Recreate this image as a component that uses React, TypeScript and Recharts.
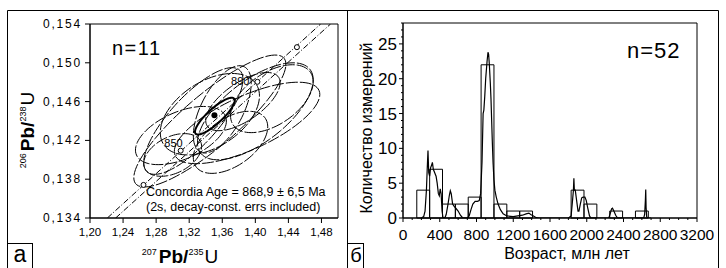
import React from 'react';
import {
  ScatterChart, Scatter, XAxis, YAxis, ReferenceArea,
  ComposedChart, Line,
} from 'recharts';

const FONT = "'Liberation Sans', Arial, Helvetica, sans-serif";

// ---------- Left panel (concordia) data ----------
const xTicksL = [1.2, 1.24, 1.28, 1.32, 1.36, 1.4, 1.44, 1.48];
const yTicksL = [0.134, 0.138, 0.142, 0.146, 0.15, 0.154];

// error ellipses: centre (cx, cy), half-extents (sx, sy), correlation rho
const ellipses = [
  { cx: 1.345, cy: 0.1440, sx: 0.092, sy: 0.0068, rho: 0.86 },
  { cx: 1.390, cy: 0.1438, sx: 0.088, sy: 0.0042, rho: 0.7 },
  { cx: 1.400, cy: 0.1450, sx: 0.070, sy: 0.0050, rho: 0.65 },
  { cx: 1.345, cy: 0.1447, sx: 0.060, sy: 0.0042, rho: 0.45 },
  { cx: 1.310, cy: 0.1425, sx: 0.055, sy: 0.0030, rho: 0.5 },
  { cx: 1.325, cy: 0.1440, sx: 0.060, sy: 0.0055, rho: 0.78 },
  { cx: 1.300, cy: 0.1405, sx: 0.035, sy: 0.0022, rho: 0.4 },
  { cx: 1.370, cy: 0.1418, sx: 0.045, sy: 0.0032, rho: 0.5 },
  { cx: 1.385, cy: 0.1460, sx: 0.045, sy: 0.0030, rho: 0.65 },
  { cx: 1.420, cy: 0.1463, sx: 0.050, sy: 0.0035, rho: 0.5 },
  { cx: 1.360, cy: 0.1452, sx: 0.035, sy: 0.0045, rho: 0.6 },
];
const ageEllipse = { cx: 1.351, cy: 0.1445, sx: 0.024, sy: 0.0019, rho: 0.85 };
const agePoint = [{ x: 1.3505, y: 0.1446 }];

const concordiaA = [{ x: 1.221, y: 0.134 }, { x: 1.479, y: 0.154 }];
const concordiaB = [{ x: 1.231, y: 0.134 }, { x: 1.491, y: 0.154 }];
const concordiaMarks = [
  { age: 830, x: 1.2647, y: 0.13741 },
  { age: 850, x: 1.3097, y: 0.14094 },
  { age: 890, x: 1.4025, y: 0.14804 },
  { age: 910, x: 1.4503, y: 0.15161 },
];
const markLabels: Record<number, string> = { 850: '850', 890: '890' };

// ---------- Right panel (histogram) data ----------
const binStarts = [150, 290, 430, 570, 710, 850, 990, 1130, 1270, 1830, 1970, 2250, 2530];
const binCounts = [4, 7, 2, 2, 3, 22, 2, 1, 1, 4, 2, 1, 1];
const binWidth = 140;

const pdfAges = [
  200, 225, 240, 255, 265, 272, 280, 290, 300, 312, 320, 330, 345, 360, 372, 385, 395, 405, 415, 425, 435,
  455, 470, 490, 505, 515, 525, 540, 555, 575, 600, 625, 650, 700, 720, 740, 760, 785, 810, 830, 845,
  860, 872, 880, 890, 900, 915, 925, 932, 940, 950, 958, 965, 972, 980, 990, 1000, 1015, 1035, 1060,
  1090, 1130, 1200, 1250, 1300, 1340, 1370, 1390, 1420, 1450, 1480, 1800, 1830, 1845, 1855, 1860,
  1865, 1875, 1890, 1905, 1915, 1930, 1945, 1960, 1980, 1995, 2010, 2030, 2045, 2240, 2255, 2270,
  2280, 2295, 2315, 2335, 2620, 2630, 2638, 2642, 2646, 2652, 2660, 2700,
];
const pdfValues = [
  0, 0.2, 1.0, 4.0, 7.5, 9.7, 6.5, 6.0, 7.2, 7.6, 8.0, 7.0, 6.5, 6.0, 5.0, 3.5, 3.2, 4.2, 3.5, 1.0, 0.1,
  0, 0.5, 2.0, 3.3, 3.9, 3.5, 2.0, 1.7, 1.4, 1.0, 0.4, 0, 0, 0.3, 1.2, 2.0, 2.4, 2.4, 2.5, 3.5,
  8, 15, 15.5, 17.5, 20, 22.5, 23.8, 23.5, 22, 19.5, 17, 14, 11, 8, 5.5, 4.0, 3.0, 2.0, 1.2,
  0.6, 0.3, 0.2, 0.3, 0.4, 0.6, 0.7, 0.5, 0.3, 0.05, 0, 0, 0.3, 2.5, 4.0, 5.7,
  4.0, 4.0, 2.5, 1.0, 1.0, 2.0, 2.9, 3.0, 3.0, 2.5, 1.5, 0.3, 0, 0, 0.6, 1.3,
  1.4, 1.0, 0.4, 0, 0, 0.5, 2.5, 4.1, 1.5, 0.2, 0, 0,
];
const xTicksR = Array.from({ length: 33 }, (_, i) => i * 100);
const yTicksR = Array.from({ length: 29 }, (_, i) => i);

// ---------- helpers ----------
function ellipsePoints(e: { cx: number; cy: number; sx: number; sy: number; rho: number }) {
  const pts: { x: number; y: number }[] = [];
  const n = 90;
  const s = Math.sqrt(1 - e.rho * e.rho);
  for (let k = 0; k <= n; k++) {
    const t = (k / n) * 2 * Math.PI;
    pts.push({ x: e.cx + e.sx * Math.cos(t), y: e.cy + e.sy * (e.rho * Math.cos(t) + s * Math.sin(t)) });
  }
  return pts;
}

const fmtComma = (v: number, d: number) => v.toFixed(d).replace('.', ',');
const Empty = () => <g />;

const LeftXTick = (p: any) => (
  <g>
    <line x1={p.x} x2={p.x} y1={p.y} y2={p.y + 5} stroke="#000" />
    <text x={p.x} y={p.y + 18} textAnchor="middle" fontSize={11.5} fontFamily={FONT} fill="#000">
      {fmtComma(p.payload.value, 2)}
    </text>
  </g>
);
const LeftYTick = (p: any) => (
  <g>
    <line x1={p.x - 5} x2={p.x} y1={p.y} y2={p.y} stroke="#000" />
    <text x={p.x - 8} y={p.y + 4} textAnchor="end" fontSize={12} letterSpacing={1.8} fontFamily={FONT} fill="#000">
      {fmtComma(p.payload.value, 3)}
    </text>
  </g>
);
const RightXTick = (p: any) => {
  const v = p.payload.value;
  const major = v % 400 === 0;
  return (
    <g>
      <line x1={p.x} x2={p.x} y1={p.y} y2={p.y + (major ? 4 : 2)} stroke="#000" />
      {major && (
        <text x={p.x} y={p.y + 22} textAnchor="middle" fontSize={15.5} fontFamily={FONT} fill="#000">
          {v}
        </text>
      )}
    </g>
  );
};
const RightYTick = (p: any) => {
  const v = p.payload.value;
  const major = v % 5 === 0;
  return (
    <g>
      <line x1={p.x - (major ? 4 : 2)} x2={p.x} y1={p.y} y2={p.y} stroke="#000" />
      {major && (
        <text x={p.x - 6} y={p.y + 6} textAnchor="end" fontSize={17} fontFamily={FONT} fill="#000">
          {v}
        </text>
      )}
    </g>
  );
};

const MarkShape = (p: any) => {
  const lbl = markLabels[p.payload.age];
  const off = p.payload.age === 850 ? { dx: 2, dy: -4 } : { dx: -8, dy: 3 };
  return (
    <g>
      <circle cx={p.cx} cy={p.cy} r={2.5} fill="#fff" stroke="#000" />
      {lbl && (
        <text x={p.cx + off.dx} y={p.cy + off.dy} textAnchor="end" fontSize={11} fontFamily={FONT} fill="#000">
          {lbl}
        </text>
      )}
    </g>
  );
};
const DotShape = (p: any) => <circle cx={p.cx} cy={p.cy} r={3} fill="#000" />;

const pdfData = pdfAges.map((a, i) => ({ age: a, v: pdfValues[i] }));

export default function App() {
  const ellStroke = { stroke: '#000', strokeWidth: 1, strokeDasharray: '12 2' };
  return (
    <div style={{ position: 'absolute', left: 0, top: 0, width: 726, height: 268, background: '#fff', overflow: 'hidden' }}>
      <div style={{ position: 'absolute', left: 0, top: 0 }}>
        <ScatterChart width={347} height={268} margin={{ top: 24, right: 9, bottom: 20, left: 30 }}>
          <XAxis type="number" dataKey="x" domain={[1.2, 1.5]} ticks={xTicksL} interval={0} allowDataOverflow
            height={30} tickSize={0} tickMargin={0} tickLine={false} axisLine={{ stroke: '#000' }} tick={LeftXTick} />
          <YAxis type="number" dataKey="y" domain={[0.134, 0.154]} ticks={yTicksL} interval={0} allowDataOverflow
            width={60} tickSize={0} tickMargin={0} tickLine={false} axisLine={{ stroke: '#000' }} tick={LeftYTick} />
          <ReferenceArea x1={1.2} x2={1.5} y1={0.134} y2={0.154} fill="none" stroke="#000" strokeWidth={1} fillOpacity={0} />
          {ellipses.map((e, i) => (
            <Scatter key={i} data={ellipsePoints(e)} line={ellStroke} shape={Empty} isAnimationActive={false} />
          ))}
          <Scatter data={ellipsePoints(ageEllipse)} line={{ stroke: '#000', strokeWidth: 2 }} shape={Empty} isAnimationActive={false} />
          <Scatter data={concordiaA} line={{ stroke: '#000', strokeWidth: 1, strokeDasharray: '6 2 1 2' }} shape={Empty} isAnimationActive={false} />
          <Scatter data={concordiaB} line={{ stroke: '#000', strokeWidth: 1, strokeDasharray: '6 2 1 2' }} shape={Empty} isAnimationActive={false} />
          <Scatter data={concordiaMarks} shape={MarkShape} isAnimationActive={false} />
          <Scatter data={agePoint} shape={DotShape} isAnimationActive={false} />
        </ScatterChart>
      </div>
      <div style={{ position: 'absolute', left: 347, top: 0 }}>
        <ComposedChart width={379} height={268} margin={{ top: 23, right: 29, bottom: 20, left: 16 }}>
          <XAxis type="number" dataKey="age" domain={[0, 3200]} ticks={xTicksR} interval={0} allowDataOverflow
            height={30} tickSize={0} tickMargin={0} tickLine={false} axisLine={{ stroke: '#000' }} tick={RightXTick} />
          <YAxis type="number" domain={[0, 28]} ticks={yTicksR} interval={0} allowDataOverflow
            width={40} tickSize={0} tickMargin={0} tickLine={false} axisLine={{ stroke: '#000' }} tick={RightYTick} />
          <ReferenceArea x1={0} x2={3200} y1={0} y2={28} fill="none" fillOpacity={0} stroke="#000" strokeWidth={1} />
          {binStarts.map((s, i) => (
            <ReferenceArea key={i} x1={s} x2={s + binWidth} y1={0} y2={binCounts[i]} fill="none" fillOpacity={0}
              stroke="#000" strokeWidth={1} />
          ))}
          <Line data={pdfData} dataKey="v" type="linear" dot={false} stroke="#000" strokeWidth={1.2} isAnimationActive={false} />
        </ComposedChart>
      </div>
      <svg width={726} height={268} style={{ position: 'absolute', left: 0, top: 0, pointerEvents: 'none' }}>
        {/* panel frames */}
        <line x1={7.5} y1={10.5} x2={718.5} y2={10.5} stroke="#000" />
        <line x1={7.5} y1={10.5} x2={7.5} y2={268} stroke="#000" />
        <line x1={347.5} y1={10.5} x2={347.5} y2={268} stroke="#000" />
        <line x1={718.5} y1={10.5} x2={718.5} y2={268} stroke="#000" />
        <rect x={7.5} y={243.5} width={25} height={30} fill="none" stroke="#000" />
        <rect x={347.5} y={243.5} width={16} height={30} fill="none" stroke="#000" />
        <text x={20} y={262} textAnchor="middle" fontSize={23} fontFamily={FONT} fill="#000">а</text>
        <text x={356} y={262} textAnchor="middle" fontSize={20} fontFamily={FONT} fill="#000">б</text>

        {/* left panel texts */}
        <text x={112} y={55} fontSize={20} letterSpacing={1.5} fontFamily={FONT} fill="#000">n=11</text>
        <text x={146} y={196} fontSize={12.5} fontFamily={FONT} fill="#000">Concordia Age = 868,9 ± 6,5 Ma</text>
        <text x={146} y={211} fontSize={12.5} fontFamily={FONT} fill="#000">(2s, decay-const. errs included)</text>
        <text x={180} y={263} textAnchor="middle" fontFamily={FONT} fill="#000">
          <tspan fontSize={9} dy={-8}>207</tspan>
          <tspan fontSize={19} fontWeight="bold" dy={8} dx={2}>Pb/</tspan>
          <tspan fontSize={9} dy={-8}>235</tspan>
          <tspan fontSize={19} dy={8} dx={1}>U</tspan>
        </text>
        <text x={34} y={130} textAnchor="middle" fontFamily={FONT} fill="#000" transform="rotate(-90 34 130)">
          <tspan fontSize={9} dy={-8}>206</tspan>
          <tspan fontSize={19} fontWeight="bold" dy={8} dx={2}>Pb/</tspan>
          <tspan fontSize={9} dy={-8}>238</tspan>
          <tspan fontSize={19} dy={8} dx={1}>U</tspan>
        </text>

        {/* right panel texts */}
        <text x={627} y={58} fontSize={22} letterSpacing={1} fontFamily={FONT} fill="#000">n=52</text>
        <text x={567} y={259} textAnchor="middle" fontSize={16} fontFamily={FONT} fill="#000">Возраст, млн лет</text>
        <text x={372} y={128} textAnchor="middle" fontSize={16} fontFamily={FONT} fill="#000" transform="rotate(-90 372 128)">
          Количество измерений
        </text>
      </svg>
    </div>
  );
}
